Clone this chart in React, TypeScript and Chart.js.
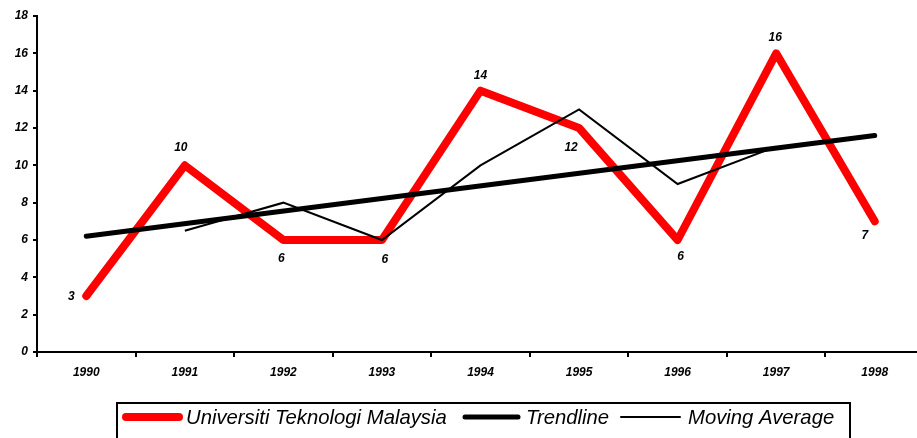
import React, { useEffect, useRef } from "react";
import { Chart, registerables } from "chart.js";

Chart.register(...registerables);

const years = ["1990", "1991", "1992", "1993", "1994", "1995", "1996", "1997", "1998"];
const utmValues = [3, 10, 6, 6, 14, 12, 6, 16, 7];
const trendValues: (number | null)[] = [6.2, null, null, null, null, null, null, null, 11.6];
const movingAvgValues: (number | null)[] = [null, 6.5, 8, 6, 10, 13, 9, 11, null];
const yTicks = [0, 2, 4, 6, 8, 10, 12, 14, 16, 18];
const seriesNames = ["Universiti Teknologi Malaysia", "Trendline", "Moving Average"];

// label offsets (style, not data)
const labelOffsets: [number, number][] = [
  [-15, 1], [-4, -18], [-2, 19], [3, 20], [0, -15], [-8, 20], [3, 17], [-1, -16], [-10, 14],
];

const labelPlugin = {
  id: "pointLabels",
  afterDatasetsDraw(chart: any) {
    const ctx = chart.ctx;
    const meta = chart.getDatasetMeta(0);
    ctx.save();
    ctx.font = "italic bold 12px 'Liberation Sans', Arial, sans-serif";
    ctx.fillStyle = "#000";
    ctx.textAlign = "center";
    ctx.textBaseline = "middle";
    meta.data.forEach((pt: any, i: number) => {
      const [dx, dy] = labelOffsets[i];
      ctx.fillText(String(utmValues[i]), pt.x + dx, pt.y + dy);
    });
    ctx.restore();
  },
};

const legendPlugin = {
  id: "boxLegend",
  afterDraw(chart: any) {
    const ctx = chart.ctx;
    ctx.save();
    ctx.strokeStyle = "#000";
    ctx.lineWidth = 2;
    ctx.strokeRect(117, 403, 733, 60);
    const y = 417;
    const drawSwatch = (x1: number, x2: number, w: number, color: string) => {
      ctx.beginPath();
      ctx.lineCap = "round";
      ctx.strokeStyle = color;
      ctx.lineWidth = w;
      ctx.moveTo(x1, y);
      ctx.lineTo(x2, y);
      ctx.stroke();
    };
    drawSwatch(126, 179, 8, "#ff0000");
    drawSwatch(465, 518, 5, "#000");
    drawSwatch(621, 680, 2, "#000");
    ctx.font = "italic 20.3px 'Liberation Sans', Arial, sans-serif";
    ctx.fillStyle = "#000";
    ctx.textAlign = "left";
    ctx.textBaseline = "middle";
    ctx.fillText(seriesNames[0], 186, y + 1);
    ctx.fillText(seriesNames[1], 526, y + 1);
    ctx.fillText(seriesNames[2], 688, y + 1);
    ctx.restore();
  },
};

export default function App() {
  const ref = useRef<HTMLCanvasElement>(null);
  useEffect(() => {
    if (!ref.current) return;
    const tickFont = { family: "'Liberation Sans', Arial, sans-serif", size: 12, style: "italic" as const, weight: "bold" as const };
    const chart = new Chart(ref.current, {
      type: "line",
      data: {
        labels: years,
        datasets: [
          {
            label: seriesNames[0],
            data: utmValues,
            borderColor: "#ff0000",
            borderWidth: 8,
            borderCapStyle: "round",
            borderJoinStyle: "round",
            pointRadius: 0,
            tension: 0,
            order: 3,
          },
          {
            label: seriesNames[1],
            data: trendValues,
            borderColor: "#000",
            borderWidth: 5,
            borderCapStyle: "round",
            pointRadius: 0,
            spanGaps: true,
            order: 1,
          },
          {
            label: seriesNames[2],
            data: movingAvgValues,
            borderColor: "#000",
            borderWidth: 2,
            pointRadius: 0,
            borderJoinStyle: "miter",
            order: 2,
          },
        ],
      },
      options: {
        responsive: false,
        animation: false,
        devicePixelRatio: 1,
        layout: { padding: { top: 16, right: 0, left: 0, bottom: 0 } },
        plugins: { legend: { display: false }, tooltip: { enabled: false } },
        scales: {
          x: {
            type: "category",
            offset: true,
            grid: { offset: true, drawOnChartArea: false, drawTicks: true, tickLength: 5, color: "#000", lineWidth: 2 },
            border: { display: true, color: "#000", width: 2 },
            ticks: { font: tickFont, color: "#000", padding: 8, maxRotation: 0 },
            afterFit: (s: any) => { s.height = 86; },
          },
          y: {
            min: 0,
            max: 18,
            afterBuildTicks: (s: any) => { s.ticks = yTicks.map((v) => ({ value: v })); },
            grid: { drawOnChartArea: false, drawTicks: true, tickLength: 4, color: "#000", lineWidth: 2 },
            border: { display: true, color: "#000", width: 2 },
            ticks: { font: tickFont, color: "#000", padding: 5 },
            afterFit: (s: any) => { s.width = 37; },
          },
        },
      },
      plugins: [labelPlugin, legendPlugin],
    });
    return () => chart.destroy();
  }, []);
  return (
    <div style={{ position: "absolute", left: 0, top: 0, width: 917, height: 438, overflow: "hidden", background: "#fff" }}>
      <canvas ref={ref} width={924} height={438} style={{ display: "block" }} />
    </div>
  );
}
